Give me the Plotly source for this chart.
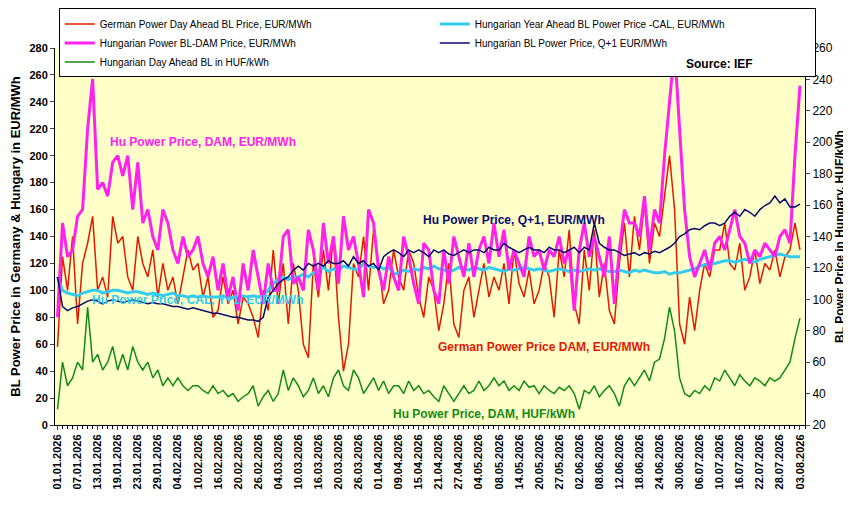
import plotly.graph_objects as go

labels = ["01.01.2026","07.01.2026","13.01.2026","19.01.2026","23.01.2026","29.01.2026","04.02.2026","10.02.2026","16.02.2026","20.02.2026","26.02.2026","04.03.2026","10.03.2026","16.03.2026","20.03.2026","26.03.2026","01.04.2026","09.04.2026","15.04.2026","21.04.2026","27.04.2026","04.05.2026","08.05.2026","14.05.2026","20.05.2026","27.05.2026","02.06.2026","08.06.2026","12.06.2026","18.06.2026","24.06.2026","30.06.2026","06.07.2026","10.07.2026","16.07.2026","22.07.2026","28.07.2026","03.08.2026"]

hu_dam_eur = [80,150,125,130, 155,160,220,257, 175,180,170,195, 200,185,200,160, 195,150,160,140,
 130,160,150,130, 120,140,125,130, 140,120,110,125, 100,120,95,110, 85,120,100,130,
 110,90,120,100, 100,140,145,105, 110,100,145,130, 100,150,120,140, 105,155,130,140,
 120,95,160,150, 115,100,125,110, 100,140,125,105, 90,135,130,100, 90,130,105,140,
 125,110,135,110, 130,140,120,150, 125,145,115,130, 120,110,140,125, 130,115,130,125,
 140,120,130,85, 130,150,125,140, 125,110,140,90, 130,160,150,150, 140,170,130,160,
 150,200,240,280, 220,160,125,110, 120,130,115,135, 140,130,145,160, 140,135,120,130,
 125,135,130,125, 140,145,135,200, 252]

de_dam_eur = [58,125,100,140, 75,120,135,155, 100,110,95,155, 135,140,110,100, 140,120,110,130,
 95,120,100,110, 90,110,130,115, 120,95,110,80, 85,110,90,100, 75,95,90,80,
 65,100,85,130, 90,120,75,120, 100,60,50,120, 95,130,100,140, 80,40,60,120,
 110,140,100,145, 120,90,100,130, 110,100,130,120, 95,80,110,100, 70,90,120,75,
 65,100,110,80, 100,120,95,110, 100,120,90,130, 105,95,115,90, 100,120,110,80,
 130,110,145,90, 75,130,100,145, 95,120,85,75, 120,150,110,155, 130,165,120,150,
 140,170,200,160, 75,60,95,70, 100,120,110,130, 130,150,120,115, 135,100,110,130,
 105,120,115,130, 110,125,130,150, 130]

hu_dam_huf = [30,60,45,50, 60,55,95,60, 65,55,60,70, 55,65,55,70, 60,55,60,50,
 55,45,50,45, 50,45,42,45, 45,42,40,45, 40,42,38,40, 35,38,40,45,
 32,38,42,35, 40,55,42,50, 45,38,42,50, 40,45,38,50, 55,45,42,55,
 50,40,45,50, 42,48,40,45, 45,40,48,42, 45,40,42,38, 35,45,40,35,
 40,45,40,42, 48,42,45,50, 45,48,42,45, 42,48,44,45, 40,45,42,40,
 44,42,45,40, 30,42,40,45, 38,42,45,40, 32,45,50,45, 50,55,48,60,
 62,75,95,80, 50,40,38,42, 40,45,42,50, 48,55,50,45, 52,48,45,50,
 48,45,50,48, 50,55,60,75, 88]

hu_q1_eur = [110,88,85,87, 88,90,92,93, 92,90,92,93, 92,91,92,93, 92,91,90,91,
 90,90,89,88, 88,87,86,87, 86,85,84,83, 83,82,81,80, 80,79,78,78,
 77,80,95,100, 105,108,110,115, 118,115,120,118, 120,118,122,120, 120,122,118,125,
 120,122,118,120, 115,125,128,130, 128,125,130,128, 130,128,125,130, 128,130,127,126,
 128,130,128,130, 130,128,132,130, 130,135,132,130, 128,130,132,130, 130,128,132,130,
 130,128,130,132, 128,132,130,150, 135,132,130,130, 128,126,127,128, 126,128,127,129,
 128,130,132,135, 140,142,145,146, 145,148,150,150, 148,150,155,158, 155,160,158,155,
 160,163,165,170, 165,168,162,162, 164]

hu_cal_eur = [110,100,98,97, 96,98,99,100, 100,98,99,100, 100,99,98,99, 99,98,97,98,
 97,96,97,98, 96,96,95,96, 95,96,95,95, 95,96,94,95, 94,96,95,96,
 95,97,100,105, 108,110,108,110, 110,112,110,113, 115,117,114,116, 115,118,117,116,
 115,120,118,117, 118,116,117,112, 113,115,114,116, 115,117,116,118, 116,115,114,115,
 117,116,115,117, 116,115,117,116, 115,114,116,115, 116,117,116,115, 116,115,114,115,
 116,115,114,115, 114,115,116,115, 116,115,114,114, 115,114,113,115, 114,115,114,113,
 113,114,112,113, 113,114,115,116, 118,119,120,120, 121,122,122,121, 122,123,122,121,
 123,124,125,126, 127,126,125,125, 125]

x = list(range(len(hu_dam_eur)))
tickvals = [i * 4 for i in range(len(labels))]
F = "Liberation Sans"
FN = "Liberation Sans Narrow, Liberation Sans"

fig = go.Figure()
fig.add_trace(go.Scatter(x=x, y=de_dam_eur, name="German Power Day Ahead BL Price, EUR/MWh", line=dict(color="#e31a00", width=1.5), mode="lines"))
fig.add_trace(go.Scatter(x=x, y=hu_cal_eur, name="Hungarian Year Ahead BL Power Price -CAL, EUR/MWh", line=dict(color="#33ccee", width=3), mode="lines"))
fig.add_trace(go.Scatter(x=x, y=hu_dam_eur, name="Hungarian Power BL-DAM Price, EUR/MWh", line=dict(color="#ff22ee", width=3), mode="lines"))
fig.add_trace(go.Scatter(x=x, y=hu_q1_eur, name="Hungarian BL Power Price, Q+1 EUR/MWh", line=dict(color="#0a0a70", width=1.5), mode="lines"))
fig.add_trace(go.Scatter(x=x, y=hu_dam_huf, name="Hungarian Day Ahead BL in HUF/kWh", line=dict(color="#168a16", width=1.5), mode="lines", yaxis="y2"))

def ann(xv, yv, text, color, yref="y"):
    fig.add_annotation(x=xv, y=yv, text="<b>%s</b>" % text, showarrow=False, yref=yref,
                       font=dict(family=F, size=12, color=color))

ann(29, 210, "Hu Power Price, DAM, EUR/MWh", "#ff22ee")
ann(91, 152, "Hu Power Price, Q+1, EUR/MWh", "#0a0a70")
ann(28, 93, "Hu Power Price, CAL, Y+1, EUR/MWh", "#33ccee")
ann(97, 58, "German Power Price DAM, EUR/MWh", "#e31a00")
ann(85, 8, "Hu Power Price, DAM, HUF/kWh", "#168a16")
ann(132, 268, "Source: IEF", "black")

fig.update_layout(
    width=851, height=505, paper_bgcolor="white", plot_bgcolor="#ffffc8",
    margin=dict(l=47, r=54, t=40, b=88, autoexpand=False),
    font=dict(family=F, size=11, color="black"),
    showlegend=True,
    legend=dict(orientation="h", x=0.005, y=1.105, xref="paper", yref="paper", yanchor="top", xanchor="left",
                entrywidth=0.5, entrywidthmode="fraction", bordercolor="black", borderwidth=1,
                font=dict(family=FN, size=10), tracegroupgap=0, bgcolor="white", itemwidth=30),
    xaxis=dict(range=[-0.5, 149], tickmode="array", tickvals=tickvals, ticktext=labels, tickangle=-90,
               tickfont=dict(family=F, size=11, weight="bold"), showgrid=False, zeroline=False,
               showline=True, linecolor="black", ticks="outside", ticklen=4,
               minor=dict(dtick=1, tick0=0, ticks="outside", ticklen=3, tickcolor="black")),
    yaxis=dict(range=[0, 280], dtick=20, showgrid=False, zeroline=False, showline=True, linecolor="black",
               ticks="outside", ticklen=4, tickfont=dict(family=F, size=11, weight="bold"),
               title=dict(text="<b>BL Power Price in Germany & Hungary in EUR/MWh</b>", font=dict(family=F, size=13), standoff=6)),
    yaxis2=dict(range=[20, 260], dtick=20, overlaying="y", side="right", showgrid=False, zeroline=False,
                showline=True, linecolor="black", ticks="outside", ticklen=4, tickfont=dict(family=FN, size=12),
                title=dict(text="<b>BL Power Price in Hungary, HUF/kWh</b>", font=dict(family=F, size=12), standoff=0)),
)
fig.write_html("out.html")
